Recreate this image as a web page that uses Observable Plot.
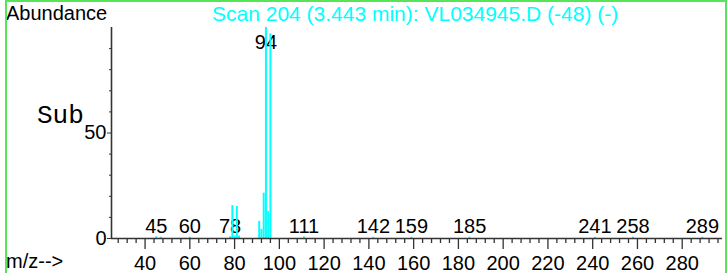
<!DOCTYPE html>
<html><head><meta charset="utf-8">
<script src="https://cdn.jsdelivr.net/npm/d3@7"></script>
<script src="https://cdn.jsdelivr.net/npm/@observablehq/plot@0.6"></script>
<style>
html,body{margin:0;padding:0;background:#fff;overflow:hidden;}
#wrap{position:relative;width:727px;height:273px;}
#border{position:absolute;left:5px;top:0;width:718px;height:300px;border:2px solid #55e655;pointer-events:none;}
</style></head>
<body><div id="wrap"><div id="chart"></div><div id="border"></div></div>
<script>
// Mass spectrum peaks (m/z and relative abundance, %)
const mz        = [45,  47,  60,  78,  79,   80,  81,   82,  91,  92,  93,   94,  95,   96,  111, 142, 159, 185, 241, 258, 289];
const abundance = [0.8, 0.6, 0.6, 0.8, 15.6, 1.2, 15.2, 1.2, 8.1, 4.3, 21.5, 100, 12.8, 97,  0.7, 0.6, 0.6, 0.6, 0.6, 0.6, 0.6];
// labelled peaks
const labelMz = [45, 60, 78, 94, 111, 142, 159, 185, 241, 258, 289];
// axis ticks
const xTicks = [40, 60, 80, 100, 120, 140, 160, 180, 200, 220, 240, 260, 280];
const xMinor = d3.range(28, 298, 4).filter(t => t % 20 !== 0);
const yTicks = [0, 50];
const yMinor = [10, 20, 30, 40, 60, 70, 80, 90];
const xDomain = [25, 298];
const yDomain = [0, 100];
const title = "Scan 204 (3.443 min): VL034945.D (-48) (-)";
const yTitle = "Abundance";
const xTitle = "m/z-->";
const stray = "Sub";

const peaks = mz.map((m, i) => ({mz: m, abundance: abundance[i]}));
const labels = labelMz.map(m => ({mz: m, abundance: peaks.find(p => p.mz === m).abundance}));
const axisColor = "#333";
const font = "'Liberation Sans', Arial, sans-serif";
const mono = "'Liberation Mono', 'Courier New', monospace";

const chart = Plot.plot({
  width: 727, height: 273,
  marginLeft: 111, marginRight: 5, marginTop: 27, marginBottom: 35,
  style: {background: "transparent", fontFamily: font, fontSize: "20px", color: "#000", overflow: "visible"},
  x: {domain: xDomain, label: null},
  y: {domain: yDomain, label: null},
  marks: [
    Plot.text(labels, {x: "mz", y: d => Math.min(d.abundance, 88), dy: -4, lineAnchor: "bottom",
      text: d => String(d.mz), fontSize: 20, fill: "#000"}),
    Plot.ruleX(peaks, {x: "mz", y1: 0, y2: "abundance", stroke: "#00ffff", strokeWidth: 2}),
    Plot.axisX({ticks: xMinor, tickSize: 5, tickFormat: () => "", stroke: axisColor, strokeWidth: 1.3, label: null}),
    Plot.axisX({ticks: xTicks, tickSize: 11, tickPadding: 6, fontSize: 20, fill: "#000", stroke: axisColor, strokeWidth: 1.3, label: null}),
    Plot.axisY({ticks: yMinor, tickSize: 2, tickFormat: () => "", stroke: axisColor, label: null}),
    Plot.axisY({ticks: yTicks, tickSize: 4, tickPadding: 1, fontSize: 20, fill: "#000", stroke: axisColor, label: null}),
    Plot.ruleY([yDomain[0]], {stroke: axisColor, strokeWidth: 1.6}),
    Plot.ruleX([xDomain[0]], {stroke: axisColor, strokeWidth: 1.6})
  ]
});
document.getElementById("chart").appendChild(chart);

const svg = d3.select(chart);
function addText(x, y, txt, family, size, color) {
  svg.append("text").attr("x", x).attr("y", y)
    .style("font-family", family).style("font-size", size + "px")
    .style("text-anchor", "start").attr("text-anchor", "start")
    .attr("fill", color).text(txt);
}
addText(6, 19.5, yTitle, font, 20, "#000");
addText(212, 20.5, title, font, 21, "#00ffff");
addText(6, 268, xTitle, font, 20, "#000");
addText(37, 122.5, stray, mono, 26, "#000");
</script>
</body></html>
